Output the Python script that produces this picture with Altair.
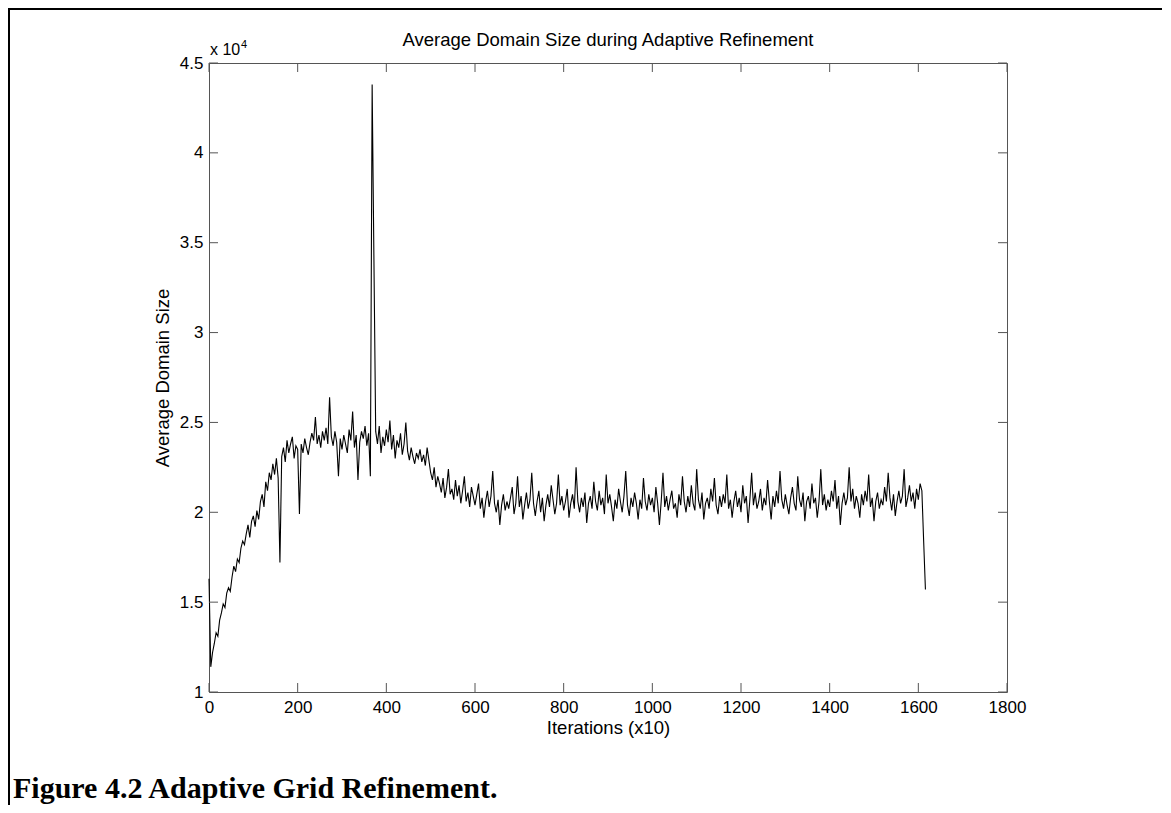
import altair as alt
import pandas as pd

# ---- data (domain size in units of 10^4) ----
iterations = list(range(0, 1617, 4))
domain_size = [
    1.63, 1.14, 1.22, 1.27, 1.33, 1.31, 1.40, 1.44, 1.49, 1.47,
    1.55, 1.58, 1.56, 1.64, 1.70, 1.67, 1.74, 1.72, 1.80, 1.84,
    1.82, 1.88, 1.93, 1.86, 1.95, 1.98, 1.92, 2.01, 1.96, 2.06,
    2.10, 2.03, 2.17, 2.12, 2.22, 2.18, 2.27, 2.21, 2.30, 2.19,
    1.72, 2.31, 2.36, 2.28, 2.40, 2.33, 2.38, 2.42, 2.30, 2.37,
    2.35, 1.99, 2.38, 2.33, 2.41, 2.36, 2.32, 2.39, 2.44, 2.40,
    2.53, 2.38, 2.43, 2.36, 2.45, 2.40, 2.47, 2.38, 2.64, 2.42,
    2.37, 2.45, 2.39, 2.20, 2.41, 2.35, 2.43, 2.38, 2.33, 2.46,
    2.40, 2.56, 2.36, 2.43, 2.18, 2.39, 2.45, 2.41, 2.48, 2.37,
    2.44, 2.20, 4.38, 3.41, 2.45, 2.38, 2.48, 2.33, 2.42, 2.37,
    2.46, 2.39, 2.51, 2.35, 2.43, 2.30, 2.40, 2.36, 2.44, 2.32,
    2.38, 2.50, 2.34, 2.29, 2.36, 2.31, 2.27, 2.33, 2.30, 2.35,
    2.28, 2.32, 2.26, 2.36, 2.29, 2.22, 2.18, 2.25, 2.14, 2.20,
    2.16, 2.11, 2.19, 2.08, 2.14, 2.24, 2.10, 2.13, 2.07, 2.18,
    2.09, 2.15, 2.05, 2.12, 2.20, 2.06, 2.11, 2.03, 2.14, 2.09,
    2.04, 2.10, 2.16, 2.02, 2.08, 1.97, 2.06, 2.12, 2.03, 2.09,
    2.23, 2.05, 2.00, 2.07, 1.93, 2.04, 2.10, 2.01, 2.06, 2.02,
    2.08, 2.14, 1.99, 2.05, 2.20, 2.03, 2.09, 1.96, 2.04, 2.11,
    2.02, 2.07, 2.22, 2.05, 1.98, 2.06, 2.12, 2.00, 2.08, 1.95,
    2.04, 2.10, 2.03, 2.15, 2.07, 1.99, 2.05, 2.21, 2.04, 2.09,
    2.01, 2.06, 2.13, 1.97, 2.05, 2.10, 2.02, 2.25, 2.06, 2.00,
    2.08, 2.03, 2.11, 1.94, 2.05, 2.09, 2.02, 2.17, 2.06, 2.01,
    2.12, 2.04, 2.08, 1.99, 2.21, 2.05, 2.10, 2.03, 1.95, 2.07,
    2.02, 2.13, 2.06, 2.00, 2.09, 2.23, 2.04, 1.98, 2.08, 2.03,
    2.11, 2.05, 1.96, 2.07, 2.02, 2.19, 2.06, 2.01, 2.10, 2.04,
    2.08, 2.00, 2.14, 2.05, 1.93, 2.06, 2.22, 2.03, 2.09, 2.01,
    2.07, 2.12, 2.02, 2.05, 1.97, 2.10, 2.04, 2.20, 2.06, 2.00,
    2.09, 2.03, 2.15, 2.05, 2.01, 2.24, 2.07, 2.02, 2.11, 1.96,
    2.05, 2.08, 2.02, 2.13, 2.06, 2.19, 2.04, 1.99, 2.09, 2.03,
    2.10, 2.05, 2.21, 2.02, 2.07, 1.97, 2.06, 2.12, 2.03, 2.08,
    2.00, 2.15, 2.05, 2.09, 1.94, 2.07, 2.22, 2.04, 2.11, 2.02,
    2.06, 2.13, 2.01, 2.08, 2.04, 2.18, 2.06, 1.96, 2.09, 2.03,
    2.12, 2.05, 2.23, 2.07, 2.02, 2.10, 2.04, 1.99, 2.08, 2.14,
    2.05, 2.01, 2.20, 2.07, 2.03, 2.11, 1.95, 2.06, 2.09, 2.02,
    2.16, 2.05, 2.08, 1.97, 2.06, 2.24, 2.04, 2.10, 2.01, 2.07,
    2.03, 2.12, 2.06, 2.18, 2.02, 2.09, 1.93, 2.05, 2.11, 2.04,
    2.08, 2.25, 2.06, 2.13, 2.02, 2.09, 2.05, 1.97, 2.10, 2.04,
    2.12, 2.06, 2.21, 2.03, 2.08, 1.95, 2.06, 2.11, 2.02, 2.07,
    2.04, 2.14, 2.06, 2.22, 2.08, 2.01, 2.10, 1.98, 2.06, 2.12,
    2.05, 2.09, 2.24, 2.03, 2.08, 2.15, 2.06, 2.11, 2.02, 2.13,
    2.07, 2.16, 2.12, 1.84, 1.57,
]
x_ticks = [0, 200, 400, 600, 800, 1000, 1200, 1400, 1600, 1800]
y_ticks = [1, 1.5, 2, 2.5, 3, 3.5, 4, 4.5]

title_text = "Average Domain Size during Adaptive Refinement"
x_title = "Iterations (x10)"
y_title = "Average Domain Size"
caption_text = "Figure 4.2 Adaptive Grid Refinement."

n = min(len(iterations), len(domain_size))
df = pd.DataFrame({"iter": iterations[:n], "size": domain_size[:n]})
xt = pd.DataFrame({"iter": x_ticks})
yt = pd.DataFrame({"size": y_ticks})
one = pd.DataFrame({"a": [0]})

W, H = 798, 629
PL, PT, PR, PB = 201, 55, 155, 113
SANS = "Liberation Sans"
TICK = 9
AXC = "#555555"

xs = alt.Scale(domain=[0, 1800], nice=False, zero=False)
ys = alt.Scale(domain=[1, 4.5], nice=False, zero=False)
x_axis = alt.Axis(values=x_ticks, title=x_title, ticks=False, domain=False,
                  grid=False, format="d", labelFlush=False, labelPadding=7,
                  titlePadding=3, labelFontSize=17, titleFontSize=18.5)
y_axis = alt.Axis(values=y_ticks, title=y_title, ticks=False, domain=False,
                  grid=False, format="~g", labelFlush=False, labelPadding=6,
                  titlePadding=7, labelFontSize=17, titleFontSize=18.5)
X = alt.X("iter:Q", scale=xs, axis=x_axis)
Y = alt.Y("size:Q", scale=ys, axis=y_axis)

line = alt.Chart(df).mark_line(color="black", strokeWidth=1.1).encode(x=X, y=Y)

tick_style = dict(color=AXC, strokeWidth=1)
xb = alt.Chart(xt).mark_rule(**tick_style).encode(
    x=X, y=alt.value(H), y2=alt.value(H - TICK))
xtp = alt.Chart(xt).mark_rule(**tick_style).encode(
    x=X, y=alt.value(0), y2=alt.value(TICK))
yl = alt.Chart(yt).mark_rule(**tick_style).encode(
    y=Y, x=alt.value(0), x2=alt.value(TICK))
yr = alt.Chart(yt).mark_rule(**tick_style).encode(
    y=Y, x=alt.value(W), x2=alt.value(W - TICK))

# page frame (top and left border lines)
frame_top = alt.Chart(one).mark_rule(color="black", strokeWidth=2).encode(
    x=alt.value(-PL), x2=alt.value(W + PR), y=alt.value(-PT + 1))
frame_left = alt.Chart(one).mark_rule(color="black", strokeWidth=2).encode(
    x=alt.value(-PL + 1), y=alt.value(-PT), y2=alt.value(H + PB))

title = alt.Chart(one).mark_text(
    text=title_text, font=SANS, fontSize=18.5, align="center", baseline="alphabetic",
    color="black").encode(x=alt.value(W / 2), y=alt.value(-17))
exp_base = alt.Chart(one).mark_text(
    text="x 10", font=SANS, fontSize=16, align="left", baseline="alphabetic",
    color="black").encode(x=alt.value(1), y=alt.value(-8))
exp_pow = alt.Chart(one).mark_text(
    text="4", font=SANS, fontSize=11, align="left", baseline="alphabetic",
    color="black").encode(x=alt.value(32), y=alt.value(-15))
caption = alt.Chart(one).mark_text(
    text=caption_text, font="Liberation Serif", fontSize=30, fontWeight="bold",
    align="left", baseline="alphabetic", color="black").encode(
    x=alt.value(-PL + 5), y=alt.value(735))

chart = alt.layer(
    line, xb, xtp, yl, yr, frame_top, frame_left, title, exp_base, exp_pow, caption
).properties(
    width=W, height=H,
    padding={"left": PL, "top": PT, "right": PR, "bottom": PB},
    autosize=alt.AutoSizeParams(type="none"),
    background="white",
).configure_view(
    stroke=AXC, strokeWidth=1
).configure_axis(
    labelFont=SANS, titleFont=SANS, labelColor="black", titleColor="black",
    titleFontWeight="normal"
)

chart.save("out.html", embed_options={"renderer": "svg", "actions": False})
